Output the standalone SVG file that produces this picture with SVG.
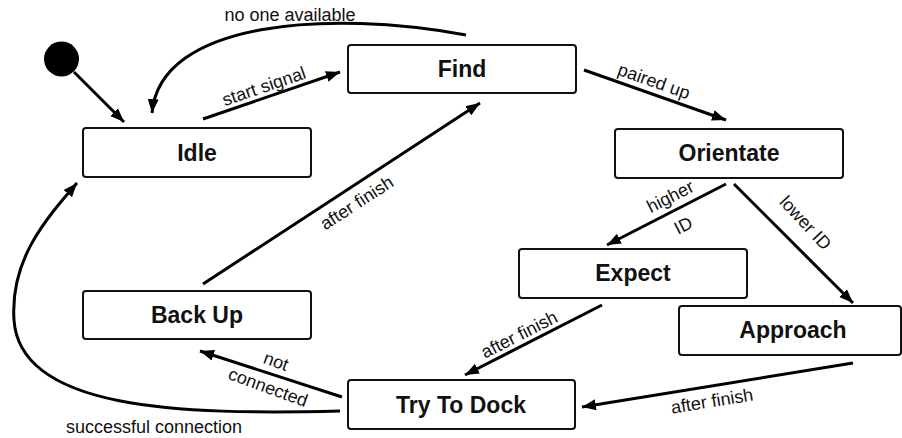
<svg xmlns="http://www.w3.org/2000/svg" width="902" height="438" viewBox="0 0 902 438">
<style>
.box{fill:#fff;stroke:#111;stroke-width:2}
.nl{font-family:"Liberation Sans",Arial,sans-serif;font-weight:bold;font-size:23px;fill:#111;text-anchor:middle}
.el{font-family:"Liberation Sans",Arial,sans-serif;font-size:18px;fill:#111;text-anchor:middle}
.c{fill:none;stroke:#000;stroke-width:3;marker-end:url(#ah)}
</style>
<defs>
<marker id="ah" markerUnits="userSpaceOnUse" markerWidth="16" markerHeight="12" refX="14" refY="5.5" orient="auto">
<path d="M0,0 L14,5.5 L0,11 z" fill="#000"/>
</marker>
</defs>
<rect width="902" height="438" fill="#fff"/>
<g id="initial"><circle cx="61.5" cy="59" r="17.5" fill="#000"/></g>
<g id="idle"><rect class="box" x="83" y="128" width="228" height="49" rx="3"/><text class="nl" x="197" y="161">Idle</text></g>
<g id="find"><rect class="box" x="348" y="45" width="228" height="48" rx="3"/><text class="nl" x="462" y="77">Find</text></g>
<g id="orientate"><rect class="box" x="615" y="129" width="228" height="49" rx="3"/><text class="nl" x="729" y="161">Orientate</text></g>
<g id="expect"><rect class="box" x="519" y="249" width="228" height="49" rx="3"/><text class="nl" x="633" y="281">Expect</text></g>
<g id="approach"><rect class="box" x="679" y="306" width="222" height="49" rx="3"/><text class="nl" x="793" y="338">Approach</text></g>
<g id="backup"><rect class="box" x="83" y="291" width="228" height="48" rx="3"/><text class="nl" x="197" y="323">Back Up</text></g>
<g id="trytodock"><rect class="box" x="348" y="380" width="227" height="49" rx="3"/><text class="nl" x="461" y="413">Try To Dock</text></g>
<g id="connectors">
<path class="c" d="M74,72 L124,122"/>
<path class="c" d="M203,119 L340,72"/>
<path class="c" d="M466,35 C330,10 160,20 152,113"/>
<path class="c" d="M584,70 L726,120"/>
<path class="c" d="M726,184 L607,245"/>
<path class="c" d="M734,184 L853,303"/>
<path class="c" d="M602,305 L465,375"/>
<path class="c" d="M853,363 L582,407"/>
<path class="c" d="M203,284 L480,103"/>
<path class="c" d="M342,397 L200,351"/>
<path class="c" d="M340,411 C180,415 20,410 14,320 C10,260 45,220 77,183"/>
<text class="el" x="290" y="21">no one available</text>
<text class="el" x="154" y="433">successful connection</text>
<text class="el" transform="translate(266,92) rotate(-19)">start signal</text>
<text class="el" transform="translate(652,87) rotate(19.4)">paired up</text>
<text class="el" transform="translate(673,202) rotate(-27)">higher</text>
<text class="el" transform="translate(686,231) rotate(-27)">ID</text>
<text class="el" transform="translate(801,227) rotate(47)">lower ID</text>
<text class="el" transform="translate(360,208) rotate(-33)">after finish</text>
<text class="el" transform="translate(522,340) rotate(-27)">after finish</text>
<text class="el" transform="translate(713,407) rotate(-9.2)">after finish</text>
<text class="el" transform="translate(274,367) rotate(20)">not</text>
<text class="el" transform="translate(266,393) rotate(20)">connected</text>
</g>
</svg>
